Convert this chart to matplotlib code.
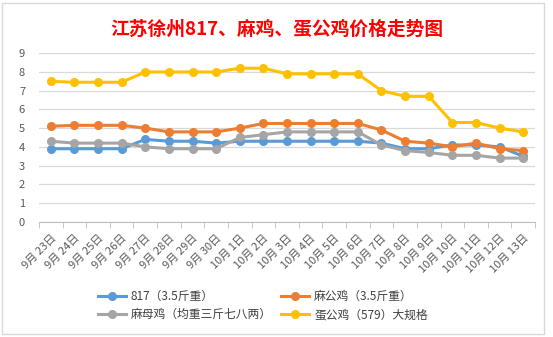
import matplotlib
matplotlib.use('Agg')
import matplotlib.pyplot as plt
import numpy as np

plt.rcParams['font.family'] = ['Noto Sans CJK SC', 'DejaVu Sans']

# dates and prices
dates = ['9月 23日', '9月 24日', '9月 25日', '9月 26日', '9月 27日', '9月 28日',
         '9月 29日', '9月 30日', '10月 1日', '10月 2日', '10月 3日', '10月 4日',
         '10月 5日', '10月 6日', '10月 7日', '10月 8日', '10月 9日', '10月 10日',
         '10月 11日', '10月 12日', '10月 13日']
p817 = [3.9, 3.9, 3.9, 3.9, 4.4, 4.3, 4.3, 4.2, 4.3, 4.3, 4.3, 4.3,
        4.3, 4.3, 4.2, 3.9, 3.9, 4.1, 4.1, 4.0, 3.5]
ma_gong = [5.1, 5.15, 5.15, 5.15, 5.0, 4.8, 4.8, 4.8, 5.0, 5.25, 5.25, 5.25,
           5.25, 5.25, 4.9, 4.3, 4.2, 4.0, 4.2, 3.9, 3.8]
ma_mu = [4.3, 4.2, 4.2, 4.2, 4.0, 3.9, 3.9, 3.9, 4.5, 4.65, 4.8, 4.8,
         4.8, 4.8, 4.1, 3.8, 3.7, 3.55, 3.55, 3.4, 3.4]
dan_gong = [7.5, 7.45, 7.45, 7.45, 8.0, 8.0, 8.0, 8.0, 8.2, 8.2, 7.9, 7.9,
            7.9, 7.9, 7.0, 6.7, 6.7, 5.3, 5.3, 5.0, 4.8]

names = ['817（3.5斤重）', '麻公鸡（3.5斤重）', '麻母鸡（均重三斤七八两）', '蛋公鸡（579）大规格']
colors = ['#5B9BD5', '#ED7D31', '#A5A5A5', '#FFC000']
series = [p817, ma_gong, ma_mu, dan_gong]

fig = plt.figure(figsize=[5.53, 3.37], dpi=100)
fig.patch.set_facecolor('white')
ax = fig.add_axes([0.0705, 0.342, 0.897, 0.5])

x = np.arange(len(dates))
lines = []
for vals, c, n in zip(series, colors, names):
    l, = ax.plot(x, vals, color=c, lw=2.2, marker='o', ms=5.5, label=n)
    lines.append(l)

ax.set_xlim(-0.5, len(dates) - 0.5)
ax.set_ylim(0, 9)
ax.set_yticks(range(10))
ax.grid(axis='y', color='#D9D9D9', lw=0.9)
ax.set_axisbelow(True)
for s in ['top', 'right', 'left']:
    ax.spines[s].set_visible(False)
ax.spines['bottom'].set_color('#BFBFBF')
ax.tick_params(axis='y', length=0, labelsize=8, labelcolor='#595959', pad=10)

ax.set_xticks(np.arange(len(dates) + 1) - 0.5, minor=True)
ax.set_xticks(x)
ax.set_xticklabels(dates, rotation=45, ha='right', rotation_mode='anchor',
                   fontsize=8, color='#595959')
ax.tick_params(axis='x', which='major', length=0, pad=8)
ax.tick_params(axis='x', which='minor', length=4, color='#BFBFBF')

fig.suptitle('江苏徐州817、麻鸡、蛋公鸡价格走势图', color='red', fontsize=13.5,
             fontweight='bold', y=0.94)

# legend filled row by row like the reference
order = [0, 2, 1, 3]
fig.legend([lines[i] for i in order], [names[i] for i in order],
           loc='center', bbox_to_anchor=(0.475, 0.0935), ncol=2, frameon=False,
           fontsize=8.5, handlelength=2.4, handletextpad=0.4, columnspacing=0.8,
           labelspacing=0.45, labelcolor='#404040')

fig.add_artist(plt.Rectangle((0.004, 0.01), 0.98, 0.98, transform=fig.transFigure,
                             fill=False, ec='#D9D9D9', lw=1))

fig.savefig('out.png', dpi=100)
